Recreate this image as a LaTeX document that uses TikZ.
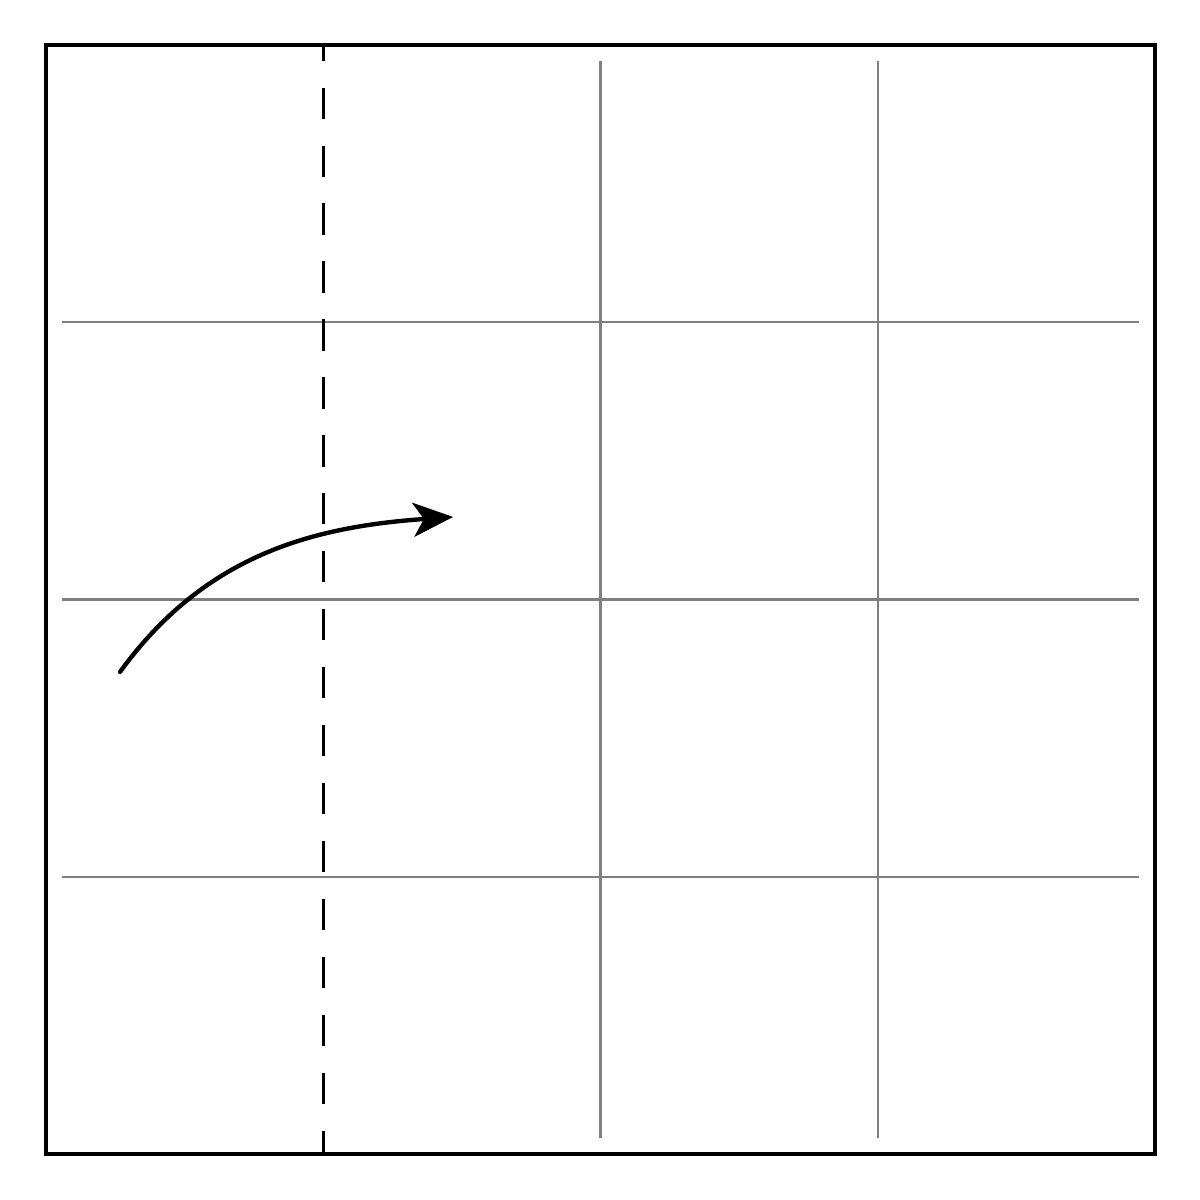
\documentclass[tikz,border=0pt]{standalone}
\usepackage{tikz}
\usetikzlibrary{arrows.meta}
\definecolor{cGrid}{HTML}{808080}
\tikzset{
  paper/.style={draw=black, line width=0.9pt},
  crease/.style={draw=cGrid, line width=0.45pt},
  foldline/.style={draw=black, line width=0.6pt, dash pattern=on 6.4pt off 5.5pt, dash phase=3.2pt},
  movearrow/.style={-{Stealth[length=8.2pt, width=7pt, inset=2.2pt]}, line width=0.9pt, line cap=round},
}
\begin{document}
\begin{tikzpicture}
  \useasboundingbox (-0.332,-0.332) rectangle (8.326,8.326);

  % Creases of the 4x4 grid
  \foreach \k in {2,4,6} {
    \draw[crease] (0.115,\k) -- (7.885,\k);
  }
  \foreach \k in {4,6} {
    \draw[crease] (\k,0.115) -- (\k,7.885);
  }

  % Fold line
  \draw[foldline] (2,8) -- (2,0);

  % Paper edge
  \draw[paper] (0,0) rectangle (8,8);

  % Fold direction
  \coordinate (start) at (0.534,3.478);
  \coordinate (tip)   at (2.937,4.596);
  \draw[movearrow] (start) to[out=54, in=184] (tip);

\end{tikzpicture}
\end{document}
